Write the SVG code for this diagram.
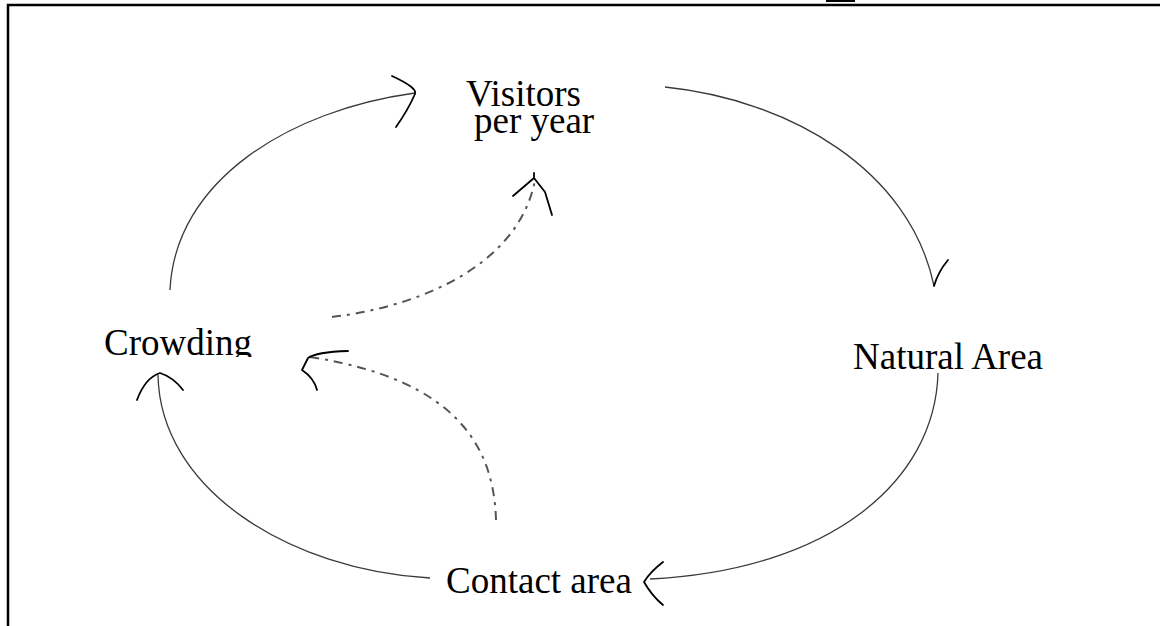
<svg xmlns="http://www.w3.org/2000/svg" width="1160" height="626" viewBox="0 0 1160 626">
  <style>
    .label { font-family: "Liberation Serif", "Times New Roman", serif; font-size: 37px; fill: #000; }
    .link { fill: none; stroke: #3a3a3a; stroke-width: 1.3; }
    .dashed { fill: none; stroke: #555; stroke-width: 2; stroke-dasharray: 9 6 3 6; }
    .head { fill: none; stroke: #000; stroke-width: 1.8; stroke-linecap: round; stroke-linejoin: round; }
    .frame { stroke: #000; stroke-width: 2.5; fill: none; }
  </style>
  <defs>
    <clipPath id="crowdClip">
      <rect x="0" y="0" width="400" height="357"/>
    </clipPath>
  </defs>
  <rect width="1160" height="626" fill="#fff"/>

  <!-- page frame -->
  <g id="frame">
    <path class="frame" d="M8,626 V5 H1160"/>
    <rect x="826" y="0" width="29" height="2" fill="#000"/>
  </g>

  <!-- connectors -->
  <g id="connectors">
    <!-- Crowding -> Visitors per year -->
    <path class="link" d="M170,290 C175,180 290,110 415,93"/>
    <path class="head" d="M392,76 Q418,88 415,94 Q408,110 396,127"/>
    <!-- Visitors per year -> Natural Area -->
    <path class="link" d="M665,87 C790,100 910,170 934,286"/>
    <path class="head" d="M934,286 Q938,272 948,260"/>
    <!-- Natural Area -> Contact area -->
    <path class="link" d="M938,373 C935,482 830,570 650,579"/>
    <path class="head" d="M663,562 Q650,572 644,582 Q652,596 663,605"/>
    <!-- Contact area -> Crowding -->
    <path class="link" d="M430,578 C290,570 160,490 158,375"/>
    <path class="head" d="M137,400 Q145,378 160,373 Q173,377 183,390"/>
    <!-- Contact area -> Crowding (dashed) -->
    <path class="dashed" d="M496,520 C494,450 460,380 310,357"/>
    <path class="head" d="M348,351 Q316,352 308,358 L302,370 Q314,378 317,390"/>
    <!-- Crowding -> Visitors per year (dashed) -->
    <path class="dashed" d="M332,317 C430,305 520,260 535,180"/>
    <path class="head" d="M513,196 L534,178 L545,192 L552,215 M534,178 L534,173"/>
  </g>

  <g id="node-visitors">
    <text class="label" x="466" y="106">Visitors</text>
    <text class="label" x="474" y="133">per year</text>
  </g>
  <g id="node-natural-area">
    <text class="label" x="853" y="369">Natural Area</text>
  </g>
  <g id="node-contact-area">
    <text class="label" x="446" y="593">Contact area</text>
  </g>
  <g id="node-crowding">
    <text class="label" x="104" y="355" clip-path="url(#crowdClip)">Crowding</text>
  </g>
</svg>
